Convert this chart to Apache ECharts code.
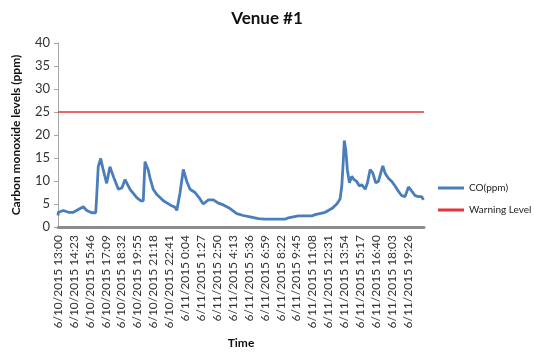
<!DOCTYPE html>
<html>
<head>
<meta charset="utf-8">
<script src="https://cdn.jsdelivr.net/npm/echarts@6/dist/echarts.min.js"></script>
<style>
  html, body { margin: 0; padding: 0; background: #fff; }
  #chart { width: 534px; height: 354px; }
</style>
</head>
<body>
<div id="chart"></div>
<script>
// Minutes elapsed since 6/10/2015 13:00, one reading per entry
const minutes = [
  0, 2, 28, 54, 80, 106, 132, 150, 176, 197, 202, 210, 223, 236, 254, 271, 289, 315, 333, 350,
  376, 411, 433, 445, 454, 471, 480, 497, 515, 550, 585, 611, 620, 637, 654, 672, 689, 715, 741, 758,
  785, 811, 837, 863, 898, 933, 967, 1002, 1046, 1081, 1150, 1185, 1202, 1254, 1324, 1342, 1394, 1429, 1455, 1472,
  1481, 1489, 1494, 1502, 1510, 1521, 1533, 1545, 1559, 1573, 1585, 1603, 1615, 1629, 1643, 1658, 1672, 1684, 1695, 1707,
  1724, 1742, 1759, 1776, 1794, 1811, 1829, 1846, 1864, 1881, 1898, 1907
];
// CO concentration (ppm) at each of those minutes
const coPpm = [
  2.5, 3.2, 3.6, 3.2, 3.2, 3.8, 4.4, 3.6, 3.1, 3.1, 6.8, 13.1, 14.9, 12.4, 9.5, 13.1, 11.0, 8.2, 8.5, 10.3,
  8.2, 6.4, 5.7, 5.7, 14.2, 12.4, 10.7, 8.2, 7.1, 5.7, 4.8, 4.3, 3.6, 7.5, 12.5, 9.9, 8.2, 7.5, 6.1, 5.0,
  5.9, 5.9, 5.2, 4.8, 4.0, 2.9, 2.5, 2.2, 1.8, 1.7, 1.7, 1.7, 2.0, 2.4, 2.4, 2.7, 3.2, 4.0, 5.0, 6.1,
  8.9, 14.5, 18.8, 16.7, 12.4, 9.6, 11.0, 10.3, 9.9, 8.9, 9.2, 8.2, 9.6, 12.5, 11.7, 9.6, 9.9, 11.7, 13.3, 11.7,
  10.6, 9.9, 8.9, 7.8, 6.8, 6.6, 8.7, 7.8, 6.8, 6.6, 6.6, 5.9
];
const warningLevel = 25;

// Time labels, one every 83 minutes
const labelStep = 83;
const tickLabels = [
  '6/10/2015 13:00', '6/10/2015 14:23', '6/10/2015 15:46', '6/10/2015 17:09',
  '6/10/2015 18:32', '6/10/2015 19:55', '6/10/2015 21:18', '6/10/2015 22:41',
  '6/11/2015 0:04', '6/11/2015 1:27', '6/11/2015 2:50', '6/11/2015 4:13',
  '6/11/2015 5:36', '6/11/2015 6:59', '6/11/2015 8:22', '6/11/2015 9:45',
  '6/11/2015 11:08', '6/11/2015 12:31', '6/11/2015 13:54', '6/11/2015 15:17',
  '6/11/2015 16:40', '6/11/2015 18:03', '6/11/2015 19:26'
];
const endMinute = 1910;

const coSeries = minutes.map((m, i) => [m, coPpm[i]]);
const warnSeries = [[0, warningLevel], [endMinute, warningLevel]];

const fontFamily = 'Lato, "Open Sans", sans-serif';

const chart = echarts.init(document.getElementById('chart'), null, { renderer: 'canvas' });
chart.setOption({
  animation: false,
  backgroundColor: '#ffffff',
  textStyle: { fontFamily: fontFamily },
  title: {
    text: 'Venue #1',
    left: 'center',
    top: 5,
    textStyle: { fontFamily: fontFamily, fontSize: 17, fontWeight: 'bold', color: '#111' }
  },
  legend: {
    orient: 'vertical',
    left: 433,
    top: 178,
    itemWidth: 26,
    itemHeight: 3,
    itemGap: 12,
    icon: 'rect',
    textStyle: { fontFamily: fontFamily, fontSize: 10, color: '#222' },
    data: ['CO(ppm)', 'Warning Level']
  },
  grid: { left: 58, right: 110, top: 43, bottom: 122, containLabel: false },
  xAxis: {
    type: 'value',
    min: 0,
    max: endMinute,
    interval: labelStep,
    name: 'Time',
    nameLocation: 'middle',
    nameGap: 110,
    nameTextStyle: { fontFamily: fontFamily, fontSize: 12, fontWeight: 'bold', color: '#111' },
    axisLine: { show: true, lineStyle: { color: '#8c8c8c', width: 3 } },
    axisTick: { show: false },
    splitLine: { show: false },
    axisLabel: {
      rotate: 90,
      fontFamily: fontFamily,
      fontSize: 12,
      color: '#333',
      margin: 8,
      showMaxLabel: false,
      formatter: function (v) {
        if (v % labelStep !== 0) return '';
        const idx = v / labelStep;
        return tickLabels[idx] || '';
      }
    }
  },
  yAxis: {
    type: 'value',
    min: 0,
    max: 40,
    interval: 5,
    name: 'Carbon monoxide levels (ppm)',
    nameLocation: 'middle',
    nameGap: 36,
    nameTextStyle: { fontFamily: fontFamily, fontSize: 12, fontWeight: 'bold', color: '#111' },
    axisLine: { show: true, lineStyle: { color: '#a6a6a6', width: 1 } },
    axisTick: { show: true, length: 4, lineStyle: { color: '#a6a6a6' } },
    splitLine: { show: false },
    axisLabel: { fontFamily: fontFamily, fontSize: 13, color: '#333', margin: 8 }
  },
  series: [
    {
      name: 'CO(ppm)',
      type: 'line',
      data: coSeries,
      symbol: 'none',
      color: '#4a7ebb',
      lineStyle: { color: '#4a7ebb', width: 2.8 },
      z: 3
    },
    {
      name: 'Warning Level',
      type: 'line',
      data: warnSeries,
      symbol: 'none',
      color: '#e2353b',
      lineStyle: { color: '#e2353b', width: 1.5 },
      z: 2
    }
  ]
});
</script>
</body>
</html>
